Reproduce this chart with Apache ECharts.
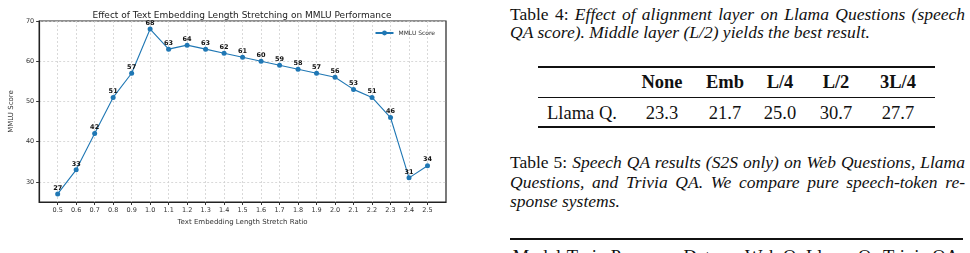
<!DOCTYPE html>
<html>
<head>
<meta charset="utf-8">
<script src="https://cdn.jsdelivr.net/npm/echarts@6/dist/echarts.min.js"></script>
<style>
  html, body { margin: 0; padding: 0; background: #fff; }
  #page { position: relative; width: 970px; height: 253px; overflow: hidden; }
  #chart { position: absolute; left: 0; top: 0; width: 470px; height: 253px; }
  .serif { font-family: "Liberation Serif", "DejaVu Serif", serif; color: #111; }
  .line { position: absolute; font-size: 17.5px; line-height: 19px; white-space: nowrap; }
  .just { text-align: justify; text-align-last: justify; white-space: normal; }
  .rule { position: absolute; background: #111; }
  .cell { position: absolute; font-size: 18.5px; line-height: 20px; text-align: center; white-space: nowrap; }
  .b { font-weight: bold; }
</style>
</head>
<body>
<div id="page">
  <div id="chart"></div>

  <div class="serif">
    <div class="line just" style="left:510px; top:5px; width:455px;">Table 4: <i>Effect of alignment layer on Llama Questions (speech</i></div>
    <div class="line" style="left:510px; top:23px;"><i>QA score). Middle layer (L/2) yields the best result.</i></div>

    <div class="rule" style="left:538px; top:66px; width:397px; height:1.5px;"></div>
    <div class="rule" style="left:538px; top:97px; width:397px; height:1px;"></div>
    <div class="rule" style="left:538px; top:126px; width:397px; height:1.5px;"></div>

    <div class="line just" style="left:510px; top:153px; width:455px;">Table 5: <i>Speech QA results (S2S only) on Web Questions, Llama</i></div>
    <div class="line just" style="left:510px; top:173px; width:455px;"><i>Questions, and Trivia QA. We compare pure speech-token re-</i></div>
    <div class="line" style="left:510px; top:192px;"><i>sponse systems.</i></div>

    <div class="rule" style="left:510px; top:238px; width:453px; height:1.5px;"></div>
  </div>
  <div id="tables" class="serif"></div>
</div>

<script>
// chart data
const ratios = [0.5, 0.6, 0.7, 0.8, 0.9, 1.0, 1.1, 1.2, 1.3, 1.4, 1.5, 1.6, 1.7, 1.8, 1.9, 2.0, 2.1, 2.2, 2.3, 2.4, 2.5]
const mmluScores = [27, 33, 42, 51, 57, 68, 63, 64, 63, 62, 61, 60, 59, 58, 57, 56, 53, 51, 46, 31, 34]
const yTicks = [30, 40, 50, 60, 70]

// table 4
const t4Header = ['', 'None', 'Emb', 'L/4', 'L/2', '3L/4']
const t4Row = ['Llama Q.', '23.3', '21.7', '25.0', '30.7', '27.7']
// table 5 header (cut off at bottom)
const t5Header = ['Model', 'Train Params', 'Data', 'Web Q.', 'Llama Q.', 'Trivia QA']

const t4Centers = [582, 662, 725, 780, 836, 898]
const t5Centers = [537, 616, 701, 773, 841, 921]

function addCells(labels, centers, top, bold) {
  const box = document.getElementById('tables')
  labels.forEach((t, i) => {
    if (!t) return
    const d = document.createElement('div')
    d.className = 'cell' + (bold ? ' b' : '')
    d.style.left = (centers[i] - 60) + 'px'
    d.style.width = '120px'
    d.style.top = top + 'px'
    d.textContent = t
    box.appendChild(d)
  })
}
addCells(t4Header, t4Centers, 72, true)
addCells(t4Row, t4Centers, 103, false)
addCells(t5Header, t5Centers, 247, false)

const chart = echarts.init(document.getElementById('chart'))
const font = 'DejaVu Sans'
const xTicks = ratios

chart.setOption({
  animation: false,
  textStyle: { fontFamily: font },
  title: {
    text: 'Effect of Text Embedding Length Stretching on MMLU Performance',
    left: 237,
    textAlign: 'center',
    top: 6,
    textStyle: { fontSize: 9, fontWeight: 'normal', color: '#222', fontFamily: font },
  },
  legend: {
    right: 30,
    top: 25,
    itemWidth: 18,
    itemHeight: 6,
    textStyle: { fontSize: 6, color: '#333', fontFamily: font },
    data: ['MMLU Score'],
  },
  grid: {
    left: 29,
    top: 21,
    right: 24,
    bottom: 51,
    show: true,
    borderColor: '#222',
    borderWidth: 1.2,
  },
  xAxis: {
    type: 'value',
    min: 0.4,
    max: 2.6,
    interval: 0.1,
    name: 'Text Embedding Length Stretch Ratio',
    nameLocation: 'middle',
    nameGap: 17,
    nameTextStyle: { fontSize: 7, color: '#333' },
    axisLine: { show: true, onZero: false, lineStyle: { color: '#222', width: 1.2 } },
    axisTick: { show: true, length: 3, lineStyle: { color: '#333' }, customValues: xTicks },
    axisLabel: {
      fontSize: 6.5,
      color: '#333',
      margin: 5,
      customValues: xTicks,
      formatter: (v) => v.toFixed(1),
    },
    splitLine: { show: true, lineStyle: { color: '#d0d0d0', type: [2, 2], width: 0.8 } },
  },
  yAxis: {
    type: 'value',
    min: 25,
    max: 70,
    name: 'MMLU Score',
    nameLocation: 'middle',
    nameGap: 19,
    nameTextStyle: { fontSize: 7, color: '#333' },
    axisLine: { show: true, lineStyle: { color: '#222', width: 1.2 } },
    axisTick: { show: true, length: 3, lineStyle: { color: '#333' }, customValues: yTicks },
    axisLabel: { fontSize: 6.5, color: '#333', margin: 5, customValues: yTicks },
    splitLine: { show: true, lineStyle: { color: '#d0d0d0', type: [2, 2], width: 0.8 } },
  },
  series: [
    {
      name: 'MMLU Score',
      type: 'line',
      data: ratios.map((r, i) => [r, mmluScores[i]]),
      symbol: 'circle',
      symbolSize: 5,
      lineStyle: { color: '#1f77b4', width: 1.1 },
      itemStyle: { color: '#1f77b4' },
      label: {
        show: true,
        position: 'top',
        distance: 0,
        fontSize: 6.5,
        fontWeight: 'bold',
        color: '#111',
        formatter: (p) => p.value[1],
      },
    },
  ],
})
</script>
</body>
</html>
